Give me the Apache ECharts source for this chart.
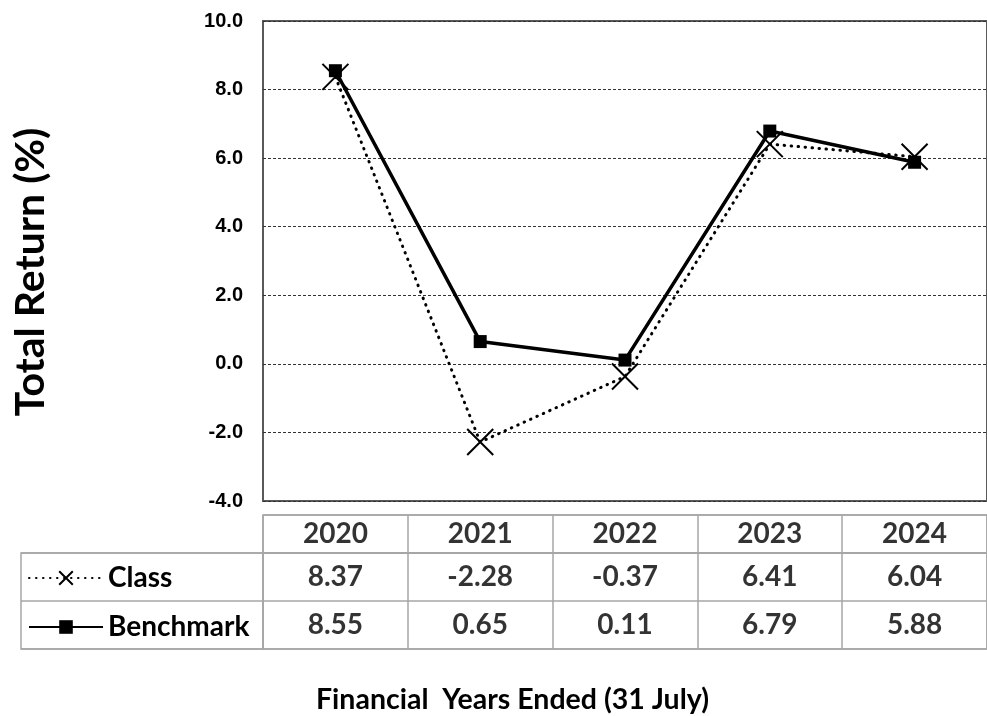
<!DOCTYPE html>
<html>
<head>
<meta charset="utf-8">
<script src="https://cdn.jsdelivr.net/npm/echarts@6/dist/echarts.min.js"></script>
<style>html,body{margin:0;padding:0;background:#fff}#c{width:987px;height:716px}</style>
</head>
<body>
<div id="c"></div>
<script>
const years = ['2020', '2021', '2022', '2023', '2024'];
const classValues = [8.37, -2.28, -0.37, 6.41, 6.04];
const benchmarkValues = [8.55, 0.65, 0.11, 6.79, 5.88];
const seriesNames = ['Class', 'Benchmark'];
const yTicks = { min: -4, max: 10, interval: 2 };

const tableFont = 'Lato';
const gridLine = { show: true, lineStyle: { color: '#a6a6a6', width: 1.5 } };
const hiddenCat = (gi, data) => ({
  type: 'category', gridIndex: gi, data: data, boundaryGap: true,
  axisLine: { show: false }, axisTick: { show: false }, axisLabel: { show: false },
  splitLine: gridLine
});

const crossPath = 'path://M0,0L10,10M10,0L0,10';

const chart = echarts.init(document.getElementById('c'));
chart.setOption({
  animation: false,
  backgroundColor: '#fff',
  title: {
    text: 'Financial  Years Ended (31 July)',
    left: 311, top: 680,
    textStyle: { fontFamily: tableFont, fontWeight: 'bold', fontSize: 28.5, color: '#000' }
  },
  legend: {
    orient: 'vertical', left: 23, top: 559,
    itemWidth: 74, itemHeight: 17, itemGap: 21,
    data: seriesNames,
    selectedMode: false,
    textStyle: { fontFamily: tableFont, fontWeight: 'bold', fontSize: 28, color: '#000', padding: [0, 0, 0, 0] }
  },
  grid: [
    { left: 263, right: 0, top: 21, height: 480, show: true, borderColor: '#595959', borderWidth: 2, containLabel: false },
    { left: 263, right: 0, top: 515, height: 38, show: true, borderColor: '#a6a6a6', borderWidth: 1.5 },
    { left: 263, right: 0, top: 553, height: 96, show: true, borderColor: '#a6a6a6', borderWidth: 1.5 },
    { left: 21, width: 242, top: 553, height: 96, show: true, borderColor: '#a6a6a6', borderWidth: 1.5 }
  ],
  xAxis: [
    { type: 'category', gridIndex: 0, data: years, boundaryGap: true,
      axisLine: { show: false }, axisTick: { show: false }, axisLabel: { show: false }, splitLine: { show: false } },
    hiddenCat(1, years),
    hiddenCat(2, years),
    { type: 'value', gridIndex: 3, show: false }
  ],
  yAxis: [
    { type: 'value', gridIndex: 0, min: yTicks.min, max: yTicks.max, interval: yTicks.interval,
      axisLine: { show: false }, axisTick: { show: false },
      axisLabel: { margin: 20, fontFamily: 'Liberation Sans', fontWeight: 'bold', fontSize: 20, color: '#000',
        formatter: v => v.toFixed(1) },
      splitLine: { show: true, lineStyle: { color: '#333', width: 1, type: [3, 2] } },
      name: 'Total Return (%)', nameLocation: 'middle', nameRotate: 90, nameGap: 212,
      nameTextStyle: { fontFamily: tableFont, fontWeight: 'bold', fontSize: 41, color: '#000', padding: [0, 22, 0, 0] }
    },
    Object.assign(hiddenCat(1, ['hdr']), { inverse: true }),
    Object.assign(hiddenCat(2, seriesNames), { inverse: true }),
    Object.assign(hiddenCat(3, seriesNames), { inverse: true })
  ],
  series: [
    {
      name: 'Class', type: 'line', xAxisIndex: 0, yAxisIndex: 0,
      data: classValues,
      symbol: crossPath, symbolSize: 26,
      itemStyle: { color: '#000', borderColor: '#000', borderWidth: 2 },
      lineStyle: { color: '#000', width: 3, type: [0.5, 6.5], cap: 'round' },
      z: 2
    },
    {
      name: 'Benchmark', type: 'line', xAxisIndex: 0, yAxisIndex: 0,
      data: benchmarkValues,
      symbol: 'rect', symbolSize: 13,
      itemStyle: { color: '#000' },
      lineStyle: { color: '#000', width: 3.5, type: 'solid' },
      z: 3
    },
    {
      type: 'scatter', xAxisIndex: 1, yAxisIndex: 1, silent: true,
      symbolSize: 1, itemStyle: { color: 'rgba(0,0,0,0)' },
      data: years.map(y => [y, 'hdr']),
      label: { show: true, position: 'inside', formatter: p => p.data[0],
        fontFamily: tableFont, fontWeight: 'bold', fontSize: 28, color: '#000' }
    },
    {
      type: 'scatter', xAxisIndex: 2, yAxisIndex: 2, silent: true,
      symbolSize: 1, itemStyle: { color: 'rgba(0,0,0,0)' },
      data: years.map((y, i) => [y, 'Class', classValues[i]])
        .concat(years.map((y, i) => [y, 'Benchmark', benchmarkValues[i]])),
      label: { show: true, position: 'inside', formatter: p => p.data[2].toFixed(2),
        fontFamily: tableFont, fontWeight: 'bold', fontSize: 28, color: '#000' }
    }
  ]
});
</script>
</body>
</html>
